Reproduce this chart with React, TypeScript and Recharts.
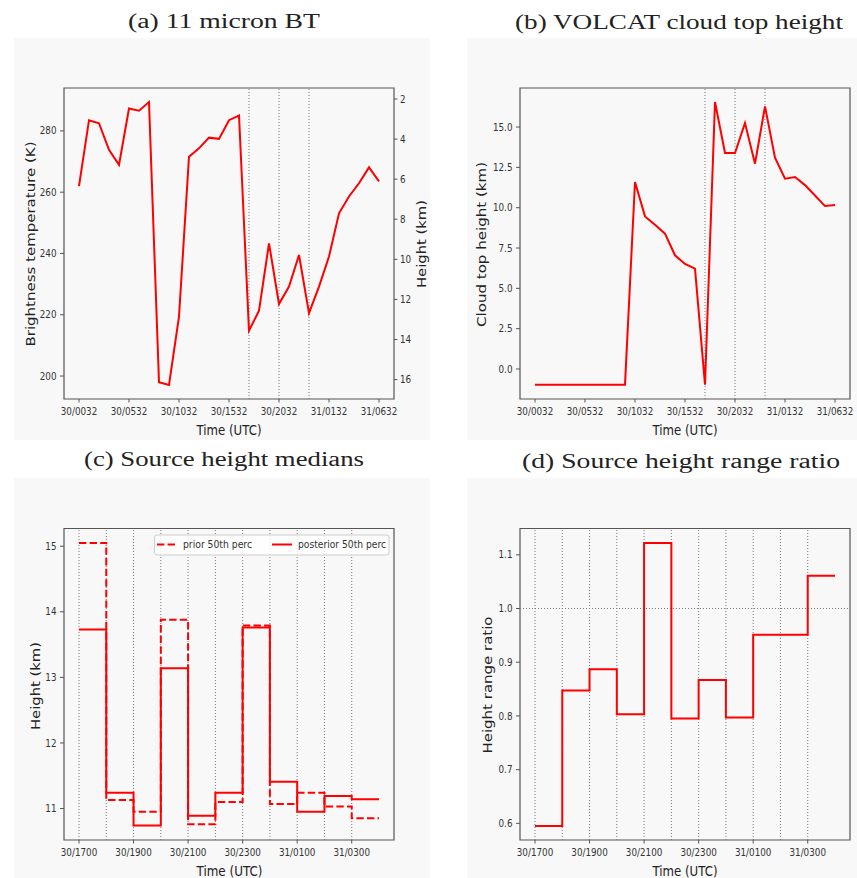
import React from 'react';
import { LineChart, Line, XAxis, YAxis, ReferenceLine, ReferenceArea } from 'recharts';

// ---------- data ----------
const hoursAB = [0, 1, 2, 3, 4, 5, 6, 7, 8, 9, 10, 11, 12, 13, 14, 15, 16, 17, 18, 19, 20, 21, 22, 23, 24, 25, 26, 27, 28, 29, 30];
const btValues = [262, 283.5, 282.5, 273.8, 268.9, 287.3, 286.6, 289.4, 198, 197.1, 219.4, 271.6, 274.3, 277.8, 277.4, 283.5, 285, 214.8, 221.3, 243.3, 223.5, 229.2, 239.5, 220.5, 229.2, 239, 253.1, 258.6, 262.9, 268.1, 263.5];
const cloudTopValues = [-0.97, -0.97, -0.97, -0.97, -0.97, -0.97, -0.97, -0.97, -0.97, -0.97, 11.59, 9.46, 8.94, 8.39, 7.05, 6.51, 6.22, -0.97, 16.55, 13.39, 13.39, 15.25, 12.73, 16.28, 13.1, 11.8, 11.9, 11.4, 10.76, 10.1, 10.16];
const tickHoursAB = [0, 5, 10, 15, 20, 25, 30];
const tickLabelsAB = ['30/0032', '30/0532', '30/1032', '30/1532', '30/2032', '31/0132', '31/0632'];
const markerHoursAB = [17, 20, 23];
const btTicks = [200, 220, 240, 260, 280];
const heightTicksA = [2, 4, 6, 8, 10, 12, 14, 16];
const cloudTicks = [0, 2.5, 5, 7.5, 10, 12.5, 15];

const stepHours = [0, 1, 2, 3, 4, 5, 6, 7, 8, 9, 10, 11];
const posteriorMedian = [13.73, 11.24, 10.74, 13.14, 10.89, 11.24, 13.76, 11.41, 10.95, 11.19, 11.14];
const priorMedian = [15.05, 11.13, 10.95, 13.88, 10.76, 11.1, 13.79, 11.07, 11.24, 11.03, 10.85];
const rangeRatio = [0.595, 0.8475, 0.887, 0.803, 1.122, 0.795, 0.867, 0.797, 0.951, 0.951, 1.061];
const tickHoursCD = [0, 2, 4, 6, 8, 10];
const tickLabelsCD = ['30/1700', '30/1900', '30/2100', '30/2300', '31/0100', '31/0300'];
const gridHoursCD = [0, 1, 2, 3, 4, 5, 6, 7, 8, 9, 10];
const medianTicks = [11, 12, 13, 14, 15];
const ratioTicks = [0.6, 0.7, 0.8, 0.9, 1.0, 1.1];

// ---------- tables ----------
const dataAB = hoursAB.map((h, i) => ({ h, bt: btValues[i], ct: cloudTopValues[i] }));
const last = (arr: number[], i: number) => arr[Math.min(i, arr.length - 1)];
const dataCD = stepHours.map((h, i) => ({
  h,
  post: last(posteriorMedian, i),
  prior: last(priorMedian, i),
  ratio: last(rangeRatio, i),
}));

// ---------- styling ----------
const RED = '#ff0000';
const SPINE = '#555555';
const TXT = '#333333';
const SX = 0.88;
const FONT = 'DejaVu Sans, sans-serif';
const SERIF = 'Liberation Serif, serif';

const makeTick = (fmt: (v: number) => string, anchor: 'start' | 'middle' | 'end', dy: string) => (props: any) => {
  const { x, y, payload } = props;
  return (
    <g transform={`translate(${x},${y}) scale(${SX},1)`}>
      <text x={0} y={0} dy={dy} textAnchor={anchor} fontSize={10} fill={TXT} fontFamily={FONT}>
        {fmt(payload.value)}
      </text>
    </g>
  );
};

const fmtAB = (v: number) => tickLabelsAB[tickHoursAB.indexOf(v)] ?? String(v);
const fmtCD = (v: number) => tickLabelsCD[tickHoursCD.indexOf(v)] ?? String(v);
const fmtInt = (v: number) => String(Math.round(v));
const fmt1 = (v: number) => v.toFixed(1);

const dotted = { stroke: '#777777', strokeWidth: 1, strokeDasharray: '1 2' };
const tickLine = { stroke: SPINE, strokeWidth: 1 };

const xDomAB: [number, number] = [-1.5, 31.5];
const xDomCD: [number, number] = [-0.55, 11.55];
const yDomA: [number, number] = [192.5, 294];
const yDomAR: [number, number] = [1.45, 16.97];
const yDomB: [number, number] = [-1.86, 17.42];
const yDomC: [number, number] = [10.52, 15.27];
const yDomD: [number, number] = [0.569, 1.149];

const box = (x: [number, number], y: [number, number], yAxisId?: string) => (
  <ReferenceArea
    yAxisId={yAxisId ?? 0}
    x1={x[0]}
    x2={x[1]}
    y1={y[0]}
    y2={y[1]}
    fill="none"
    fillOpacity={0}
    stroke={SPINE}
    strokeWidth={1.2}
    ifOverflow="visible"
  />
);

const BG = '#f8f8f8';

function ChartA() {
  return (
    <LineChart width={430} height={400} data={dataAB} margin={{ top: 48, right: 0, bottom: 0, left: 0 }}>
      <XAxis dataKey="h" type="number" domain={xDomAB} ticks={tickHoursAB} interval={0} height={41}
        tickSize={3.5} tickMargin={5} axisLine={false} tickLine={tickLine} tick={makeTick(fmtAB, 'middle', '0.71em')} allowDataOverflow />
      <YAxis yAxisId="left" type="number" domain={yDomA} ticks={btTicks} interval={0} width={64}
        tickSize={4} tickMargin={3.5} axisLine={false} tickLine={tickLine} tick={makeTick(fmtInt, 'end', '0.355em')} allowDataOverflow />
      <YAxis yAxisId="right" orientation="right" type="number" domain={yDomAR} reversed ticks={heightTicksA} interval={0} width={36}
        tickSize={3.5} tickMargin={2.5} axisLine={false} tickLine={tickLine} tick={makeTick(fmtInt, 'start', '0.355em')} allowDataOverflow />
      {markerHoursAB.map((h) => (
        <ReferenceLine key={h} yAxisId="left" x={h} {...dotted} />
      ))}
      <Line yAxisId="left" dataKey="bt" type="linear" stroke={RED} strokeWidth={2} dot={false} isAnimationActive={false} />
      {box(xDomAB, yDomA, 'left')}
    </LineChart>
  );
}

function ChartB() {
  return (
    <LineChart width={427} height={400} data={dataAB} margin={{ top: 48, right: 7, bottom: 0, left: 0 }}>
      <XAxis dataKey="h" type="number" domain={xDomAB} ticks={tickHoursAB} interval={0} height={41}
        tickSize={3.5} tickMargin={5} axisLine={false} tickLine={tickLine} tick={makeTick(fmtAB, 'middle', '0.71em')} allowDataOverflow />
      <YAxis type="number" domain={yDomB} ticks={cloudTicks} interval={0} width={90}
        tickSize={4} tickMargin={3.5} axisLine={false} tickLine={tickLine} tick={makeTick(fmt1, 'end', '0.355em')} allowDataOverflow />
      {markerHoursAB.map((h) => (
        <ReferenceLine key={h} x={h} {...dotted} />
      ))}
      <Line dataKey="ct" type="linear" stroke={RED} strokeWidth={2} dot={false} isAnimationActive={false} />
      {box(xDomAB, yDomB)}
    </LineChart>
  );
}

function ChartC() {
  return (
    <LineChart width={430} height={398} data={dataCD} margin={{ top: 48.5, right: 36, bottom: 0, left: 0 }}>
      <XAxis dataKey="h" type="number" domain={xDomCD} ticks={tickHoursCD} interval={0} height={38}
        tickSize={3.5} tickMargin={5} axisLine={false} tickLine={tickLine} tick={makeTick(fmtCD, 'middle', '0.71em')} allowDataOverflow />
      <YAxis type="number" domain={yDomC} ticks={medianTicks} interval={0} width={64}
        tickSize={4} tickMargin={3.5} axisLine={false} tickLine={tickLine} tick={makeTick(fmtInt, 'end', '0.355em')} allowDataOverflow />
      {gridHoursCD.map((h) => (
        <ReferenceLine key={h} x={h} {...dotted} />
      ))}
      <Line dataKey="prior" name="prior 50th perc" type="stepAfter" stroke={RED} strokeWidth={2} strokeDasharray="7.4 3.2" dot={false} isAnimationActive={false} />
      <Line dataKey="post" name="posterior 50th perc" type="stepAfter" stroke={RED} strokeWidth={2} dot={false} isAnimationActive={false} />
      {box(xDomCD, yDomC)}
    </LineChart>
  );
}

function ChartD() {
  return (
    <LineChart width={427} height={398} data={dataCD} margin={{ top: 48.5, right: 7, bottom: 0, left: 0 }}>
      <XAxis dataKey="h" type="number" domain={xDomCD} ticks={tickHoursCD} interval={0} height={38}
        tickSize={3.5} tickMargin={5} axisLine={false} tickLine={tickLine} tick={makeTick(fmtCD, 'middle', '0.71em')} allowDataOverflow />
      <YAxis type="number" domain={yDomD} ticks={ratioTicks} interval={0} width={90}
        tickSize={4} tickMargin={3.5} axisLine={false} tickLine={tickLine} tick={makeTick(fmt1, 'end', '0.355em')} allowDataOverflow />
      {gridHoursCD.map((h) => (
        <ReferenceLine key={h} x={h} {...dotted} />
      ))}
      <ReferenceLine y={1.0} {...dotted} />
      <Line dataKey="ratio" type="stepAfter" stroke={RED} strokeWidth={2} dot={false} isAnimationActive={false} />
      {box(xDomCD, yDomD)}
    </LineChart>
  );
}

const Title = ({ x, y, len, children }: any) => (
  <text x={x} y={y} textAnchor="middle" fontSize={20} fill="#222" fontFamily={SERIF} textLength={len} lengthAdjust="spacingAndGlyphs">
    {children}
  </text>
);

const VLabel = ({ x, y, len, children }: any) => (
  <text transform={`translate(${x},${y}) rotate(-90)`} x={0} y={0} textAnchor="middle" dominantBaseline="central"
    fontSize={12} fill="#222" fontFamily={FONT} textLength={len} lengthAdjust="spacingAndGlyphs">
    {children}
  </text>
);

const HLabel = ({ x, y, len, children }: any) => (
  <text x={x} y={y} textAnchor="middle" dominantBaseline="central" fontSize={13.5} fill="#222" fontFamily={FONT}
    textLength={len} lengthAdjust="spacingAndGlyphs">
    {children}
  </text>
);

export default function App() {
  const abs = (left: number, top: number, w: number, h: number): React.CSSProperties => ({
    position: 'absolute', left, top, width: w, height: h,
  });
  return (
    <div style={{ position: 'absolute', left: 0, top: 0, width: 857, height: 878, background: '#ffffff', overflow: 'hidden' }}>
      <div style={{ ...abs(14, 38, 416, 402), background: BG }} />
      <div style={{ ...abs(467, 38, 390, 402), background: BG }} />
      <div style={{ ...abs(14, 478, 416, 400), background: BG }} />
      <div style={{ ...abs(467, 478, 390, 400), background: BG }} />

      <div style={abs(0, 40, 430, 400)}><ChartA /></div>
      <div style={abs(430, 40, 427, 400)}><ChartB /></div>
      <div style={abs(0, 480, 430, 398)}><ChartC /></div>
      <div style={abs(430, 480, 427, 398)}><ChartD /></div>

      <svg width={857} height={878} style={{ position: 'absolute', left: 0, top: 0, pointerEvents: 'none' }}>
        <Title x={224} y={28} len={192}>(a) 11 micron BT</Title>
        <Title x={679} y={29} len={328}>(b) VOLCAT cloud top height</Title>
        <Title x={224} y={466} len={280}>(c) Source height medians</Title>
        <Title x={681} y={468} len={318}>(d) Source height range ratio</Title>

        <VLabel x={30.5} y={244} len={205}>Brightness temperature (K)</VLabel>
        <VLabel x={422} y={244} len={88}>Height (km)</VLabel>
        <HLabel x={229} y={430} len={65}>Time (UTC)</HLabel>

        <VLabel x={482} y={244.5} len={165}>Cloud top height (km)</VLabel>
        <HLabel x={685} y={430} len={65}>Time (UTC)</HLabel>

        <VLabel x={36} y={686} len={88}>Height (km)</VLabel>
        <HLabel x={229.5} y={871} len={66}>Time (UTC)</HLabel>

        <VLabel x={488.3} y={685} len={137}>Height range ratio</VLabel>
        <HLabel x={685} y={871} len={65}>Time (UTC)</HLabel>

        {/* legend for (c) */}
        <rect x={154.5} y={535} width={234.5} height={20} rx={2.5} fill="#ffffff" fillOpacity={0.8} stroke="#cccccc" strokeWidth={1} />
        <line x1={157} y1={544.5} x2={175} y2={544.5} stroke={RED} strokeWidth={2} strokeDasharray="7.4 3.2" />
        <text x={183} y={544.5} dominantBaseline="central" fontSize={10} fill={TXT} fontFamily={FONT} textLength={69} lengthAdjust="spacingAndGlyphs">prior 50th perc</text>
        <line x1={272} y1={544.5} x2={292} y2={544.5} stroke={RED} strokeWidth={2} />
        <text x={298} y={544.5} dominantBaseline="central" fontSize={10} fill={TXT} fontFamily={FONT} textLength={88} lengthAdjust="spacingAndGlyphs">posterior 50th perc</text>
      </svg>
    </div>
  );
}
